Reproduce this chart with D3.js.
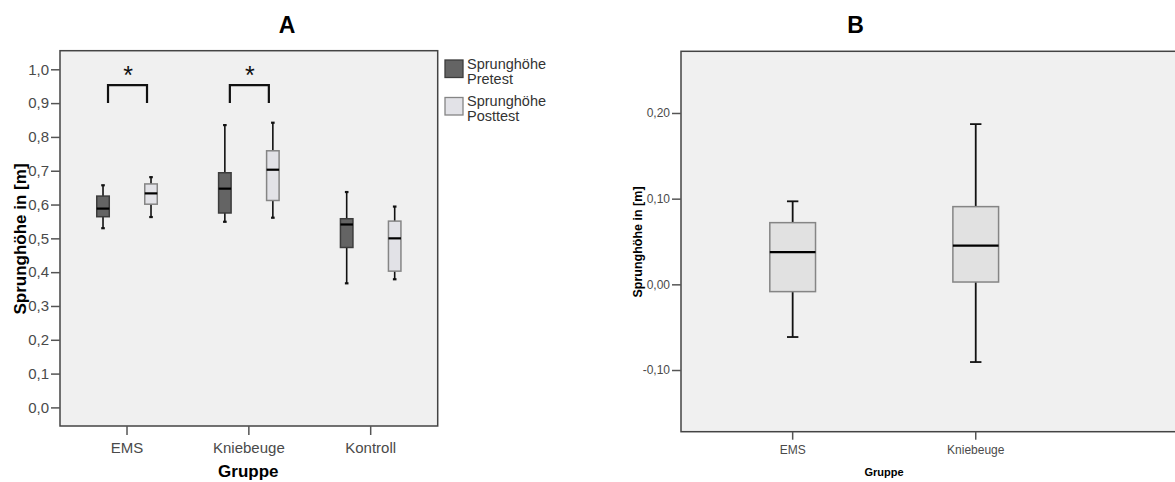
<!DOCTYPE html>
<html>
<head>
<meta charset="utf-8">
<script src="https://cdn.jsdelivr.net/npm/d3@7"></script>
<style>
  html, body { margin: 0; padding: 0; background: #fff; }
  svg { display: block; font-family: "Liberation Sans", Arial, sans-serif; }
</style>
</head>
<body>
<svg id="chart" width="1175" height="482"></svg>
<script>
// ---- Panel A: jump height pre/post test per group (five-number summaries) ----
const groupsA = ["EMS", "Kniebeuge", "Kontroll"];
const seriesA = ["Pretest", "Posttest"];
// [min, Q1, median, Q3, max]
const pretestA = [
  [0.530, 0.564, 0.588, 0.625, 0.657],
  [0.549, 0.575, 0.647, 0.694, 0.835],
  [0.367, 0.473, 0.541, 0.558, 0.637]
];
const posttestA = [
  [0.563, 0.601, 0.633, 0.661, 0.681],
  [0.561, 0.612, 0.703, 0.759, 0.842],
  [0.379, 0.403, 0.500, 0.551, 0.594]
];
const ticksA = [0, 0.1, 0.2, 0.3, 0.4, 0.5, 0.6, 0.7, 0.8, 0.9, 1.0];
const sigGroups = ["EMS", "Kniebeuge"];
const sigBracket = [0.90, 0.953];   // leg bottom, bracket top
const sigStar = 0.998;

// ---- Panel B: change in jump height per group ----
const groupsB = ["EMS", "Kniebeuge"];
const diffB = [
  [-0.0615, -0.0085, 0.0377, 0.072, 0.0969],
  [-0.0907, 0.0027, 0.0452, 0.0907, 0.187]
];
const ticksB = [-0.1, 0, 0.1, 0.2];

const de = d3.formatLocale({decimal: ",", thousands: ".", grouping: [3], currency: ["", " €"], minus: "-"});
const fmt1 = de.format(".1f");
const fmt2 = de.format(".2f");

const svg = d3.select("#chart");
const FRAME = "#444";
const TICKTXT = "#4a4a4a";

// ===================== Panel A =====================
const A = {left: 60, right: 437.7, top: 50.7, bottom: 426};
const yA = d3.scaleLinear().domain([-0.055, 1.055]).range([A.bottom, A.top]);
const xA = d3.scaleBand().domain(groupsA).range([A.left, A.right]).paddingInner(0).paddingOuter(0.05);
const xA1 = d3.scaleBand().domain(seriesA).range([-48, 48]);
const fillA = d3.scaleOrdinal().domain(seriesA).range(["#646464", "#e2e2e7"]);
const strokeA = d3.scaleOrdinal().domain(seriesA).range(["#3c3c3c", "#858585"]);
const boxWA = 12.5;

const gA = svg.append("g");
gA.append("rect").attr("x", A.left).attr("y", A.top)
  .attr("width", A.right - A.left).attr("height", A.bottom - A.top)
  .attr("fill", "#f0f0f0").attr("stroke", FRAME).attr("stroke-width", 1.5);

// axes
const axA_y = gA.append("g").attr("transform", `translate(${A.left},0)`)
  .call(d3.axisLeft(yA).tickValues(ticksA).tickFormat(fmt1).tickSize(9).tickPadding(2));
const axA_x = gA.append("g").attr("transform", `translate(0,${A.bottom})`)
  .call(d3.axisBottom(xA).tickSize(9).tickPadding(7));
[axA_y, axA_x].forEach(ax => {
  ax.select(".domain").remove();
  ax.selectAll(".tick line").attr("stroke", "#555").attr("stroke-width", 1.5);
  ax.selectAll(".tick text").attr("fill", TICKTXT).style("font-size", "15px")
    .style("font-family", "'Liberation Sans', Arial, sans-serif");
});

// boxes
const boxesA = [];
groupsA.forEach((g, i) => {
  boxesA.push({g, s: "Pretest", v: pretestA[i]});
  boxesA.push({g, s: "Posttest", v: posttestA[i]});
});
const bA = gA.selectAll(".boxA").data(boxesA).join("g")
  .attr("transform", d => `translate(${xA(d.g) + xA.bandwidth() / 2 + xA1(d.s) + xA1.bandwidth() / 2},0)`);
bA.append("line").attr("y1", d => yA(d.v[0])).attr("y2", d => yA(d.v[4]))
  .attr("stroke", "#111").attr("stroke-width", 1.6);
bA.each(function (d) {
  const s = d3.select(this);
  [d.v[0], d.v[4]].forEach(v => s.append("line")
    .attr("x1", -1.8).attr("x2", 1.8).attr("y1", yA(v)).attr("y2", yA(v))
    .attr("stroke", "#111").attr("stroke-width", 2.2));
});
bA.append("rect").attr("x", -boxWA / 2).attr("width", boxWA)
  .attr("y", d => yA(d.v[3])).attr("height", d => yA(d.v[1]) - yA(d.v[3]))
  .attr("fill", d => fillA(d.s)).attr("stroke", d => strokeA(d.s)).attr("stroke-width", 1.5);
bA.append("line").attr("x1", -boxWA / 2).attr("x2", boxWA / 2)
  .attr("y1", d => yA(d.v[2])).attr("y2", d => yA(d.v[2]))
  .attr("stroke", "#000").attr("stroke-width", 2.2);

// significance brackets
const sig = gA.selectAll(".sig").data(sigGroups).join("g");
sig.append("path")
  .attr("d", g => {
    const c = xA(g) + xA.bandwidth() / 2;
    const l = c - 19, r = c + 20;
    return `M${l},${yA(sigBracket[0])}V${yA(sigBracket[1])}H${r}V${yA(sigBracket[0])}`;
  })
  .attr("fill", "none").attr("stroke", "#111").attr("stroke-width", 2.2);
sig.append("text")
  .attr("x", g => xA(g) + xA.bandwidth() / 2 + 1)
  .attr("y", yA(sigStar) + 14)
  .attr("text-anchor", "middle").style("font-size", "25px").attr("fill", "#111")
  .text("*");

// titles
gA.append("text").attr("x", 287).attr("y", 33).attr("text-anchor", "middle")
  .style("font-size", "23px").style("font-weight", "bold").text("A");
gA.append("text").attr("x", (A.left + A.right) / 2 - 0.5).attr("y", 477).attr("text-anchor", "middle")
  .style("font-size", "17px").style("font-weight", "bold").text("Gruppe");
gA.append("text").attr("transform", `translate(26,239) rotate(-90)`).attr("text-anchor", "middle")
  .style("font-size", "17px").style("font-weight", "bold").text("Sprunghöhe in [m]");

// legend
const leg = gA.selectAll(".leg").data(seriesA).join("g")
  .attr("transform", (d, i) => `translate(445,${60 + i * 37.5})`);
leg.append("rect").attr("width", 18).attr("height", 17.5)
  .attr("fill", d => fillA(d)).attr("stroke", d => strokeA(d)).attr("stroke-width", 1.3);
leg.append("text").attr("x", 22).attr("y", 8.5).attr("fill", "#333").style("font-size", "14.5px")
  .text("Sprunghöhe");
leg.append("text").attr("x", 22).attr("y", 23.5).attr("fill", "#333").style("font-size", "14.5px")
  .text(d => d);

// ===================== Panel B =====================
const B = {left: 681, right: 1087.4, top: 51.3, bottom: 431.7};
const yB = d3.scaleLinear().domain([-0.172, 0.272]).range([B.bottom, B.top]);
const xB = d3.scaleBand().domain(groupsB).range([B.left, B.right]).paddingInner(0).paddingOuter(0.11);
const boxWB = 45.7;

const gB = svg.append("g");
gB.append("rect").attr("x", B.left).attr("y", B.top)
  .attr("width", 1200 - B.left).attr("height", B.bottom - B.top)
  .attr("fill", "#f0f0f0").attr("stroke", FRAME).attr("stroke-width", 1.5);

const axB_y = gB.append("g").attr("transform", `translate(${B.left},0)`)
  .call(d3.axisLeft(yB).tickValues(ticksB).tickFormat(fmt2).tickSize(9).tickPadding(2));
const axB_x = gB.append("g").attr("transform", `translate(0,${B.bottom})`)
  .call(d3.axisBottom(xB).tickSize(8).tickPadding(6));
[axB_y, axB_x].forEach(ax => {
  ax.select(".domain").remove();
  ax.selectAll(".tick line").attr("stroke", "#555").attr("stroke-width", 1.5);
  ax.selectAll(".tick text").attr("fill", TICKTXT).style("font-size", "12px")
    .style("font-family", "'Liberation Sans', Arial, sans-serif");
});

const bB = gB.selectAll(".boxB").data(groupsB.map((g, i) => ({g, v: diffB[i]}))).join("g")
  .attr("transform", d => `translate(${xB(d.g) + xB.bandwidth() / 2},0)`);
bB.append("line").attr("y1", d => yB(d.v[0])).attr("y2", d => yB(d.v[4]))
  .attr("stroke", "#111").attr("stroke-width", 1.8);
bB.each(function (d) {
  const s = d3.select(this);
  [d.v[0], d.v[4]].forEach(v => s.append("line")
    .attr("x1", -5.7).attr("x2", 5.7).attr("y1", yB(v)).attr("y2", yB(v))
    .attr("stroke", "#111").attr("stroke-width", 1.8));
});
bB.append("rect").attr("x", -boxWB / 2).attr("width", boxWB)
  .attr("y", d => yB(d.v[3])).attr("height", d => yB(d.v[1]) - yB(d.v[3]))
  .attr("fill", "#e1e1e1").attr("stroke", "#858585").attr("stroke-width", 1.5);
bB.append("line").attr("x1", -boxWB / 2).attr("x2", boxWB / 2)
  .attr("y1", d => yB(d.v[2])).attr("y2", d => yB(d.v[2]))
  .attr("stroke", "#000").attr("stroke-width", 2.2);

gB.append("text").attr("x", 855.5).attr("y", 33).attr("text-anchor", "middle")
  .style("font-size", "23px").style("font-weight", "bold").text("B");
gB.append("text").attr("x", 884).attr("y", 476).attr("text-anchor", "middle")
  .style("font-size", "11px").style("font-weight", "bold").text("Gruppe");
gB.append("text").attr("transform", `translate(642,242) rotate(-90)`).attr("text-anchor", "middle")
  .style("font-size", "12.5px").style("font-weight", "bold").text("Sprunghöhe in [m]");
</script>
</body>
</html>
